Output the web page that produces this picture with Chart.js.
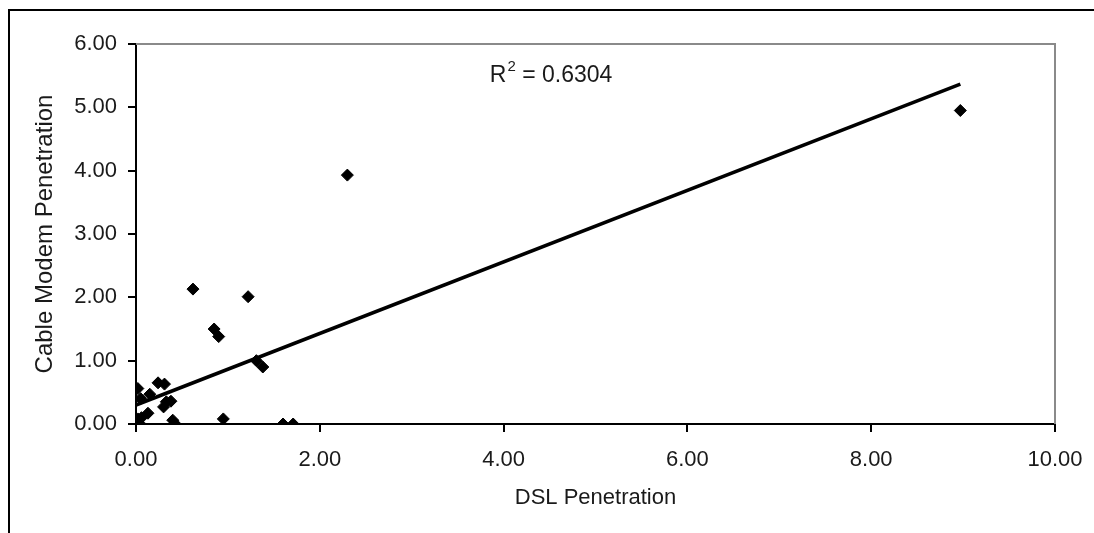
<!DOCTYPE html>
<html>
<head>
<meta charset="utf-8">
<script src="https://cdn.jsdelivr.net/npm/chart.js@4.4.1/dist/chart.umd.min.js"></script>
<style>
html,body{margin:0;padding:0;background:#fff;}
#wrap{width:1094px;height:533px;position:relative;}
canvas{display:block;}
</style>
</head>
<body>
<div id="wrap"><canvas id="c" width="1094" height="533"></canvas></div>
<script>
// ---- data ----
const dslPenetration        = [0.00, 0.01, 0.02, 0.03, 0.05, 0.02, 0.06, 0.13, 0.15, 0.24, 0.31, 0.33, 0.30, 0.38, 0.40, 0.42, 0.62, 0.85, 0.90, 0.95, 1.22, 1.31, 1.38, 1.60, 1.71, 2.30, 8.97];
const cableModemPenetration = [0.00, 0.03, 0.08, 0.02, 0.40, 0.56, 0.10, 0.17, 0.47, 0.65, 0.63, 0.35, 0.27, 0.36, 0.06, 0.01, 2.13, 1.50, 1.38, 0.08, 2.01, 1.00, 0.90, 0.00, 0.00, 3.93, 4.95];
const xTickValues = [0, 2, 4, 6, 8, 10];
const yTickValues = [0, 1, 2, 3, 4, 5, 6];
const trendIntercept = 0.30;
const trendSlope = 0.565;
const rSquaredText = '0.6304';
const xAxisTitle = 'DSL Penetration';
const yAxisTitle = 'Cable Modem Penetration';

const points = dslPenetration.map((x, i) => ({x: x, y: cableModemPenetration[i]}));
const minX = Math.min(...dslPenetration);
const maxX = Math.max(...dslPenetration);
const trendPoints = [minX, maxX].map(x => ({x: x, y: trendIntercept + trendSlope * x}));

const FONT = "'Liberation Sans', Arial, sans-serif";
Chart.defaults.font.family = FONT;
Chart.defaults.font.size = 22;
Chart.defaults.color = '#1a1a1a';

const frame = {
  id: 'frame',
  beforeDraw(chart) {
    const ctx = chart.ctx;
    ctx.save();
    ctx.fillStyle = '#fff';
    ctx.fillRect(0, 0, chart.width, chart.height);
    ctx.strokeStyle = '#000';
    ctx.lineWidth = 2;
    ctx.beginPath();
    ctx.moveTo(9, chart.height);
    ctx.lineTo(9, 10);
    ctx.lineTo(chart.width, 10);
    ctx.stroke();
    ctx.restore();
  },
  beforeDatasetsDraw(chart) {
    const {ctx, chartArea: a} = chart;
    ctx.save();
    ctx.strokeStyle = '#8a8a8a';
    ctx.lineWidth = 2;
    ctx.beginPath();
    ctx.moveTo(a.left, a.top);
    ctx.lineTo(a.right, a.top);
    ctx.lineTo(a.right, a.bottom);
    ctx.stroke();
    ctx.restore();
  },
  afterDatasetsDraw(chart) {
    const ctx = chart.ctx;
    const xs = chart.scales.x, ys = chart.scales.y;
    const px = xs.getPixelForValue(3.85);
    const py = ys.getPixelForValue(5.50);
    ctx.save();
    ctx.fillStyle = '#1a1a1a';
    ctx.textBaseline = 'middle';
    ctx.textAlign = 'left';
    ctx.font = '23px ' + FONT;
    ctx.fillText('R', px, py);
    let w = ctx.measureText('R').width;
    ctx.font = '15px ' + FONT;
    ctx.fillText('2', px + w + 1, py - 9);
    w += ctx.measureText('2').width + 1;
    ctx.font = '23px ' + FONT;
    ctx.fillText(' = ' + rSquaredText, px + w, py);
    ctx.restore();
  }
};

new Chart(document.getElementById('c'), {
  type: 'scatter',
  data: {
    datasets: [
      {
        label: 'Penetration',
        data: points,
        pointStyle: 'rectRot',
        pointRadius: 6,
        pointBorderWidth: 1,
        backgroundColor: '#000',
        borderColor: '#000',
        order: 2
      },
      {
        label: 'Linear trend',
        data: trendPoints,
        showLine: true,
        borderColor: '#000',
        borderWidth: 3.5,
        pointRadius: 0,
        fill: false,
        order: 1
      }
    ]
  },
  plugins: [frame],
  options: {
    responsive: false,
    animation: false,
    devicePixelRatio: 1,
    layout: {padding: {left: 0, top: 44, right: 39, bottom: 0}},
    plugins: {legend: {display: false}, tooltip: {enabled: false}},
    scales: {
      x: {
        type: 'linear',
        min: 0, max: 10,
        afterBuildTicks: s => { s.ticks = xTickValues.map(v => ({value: v})); },
        afterFit: s => { s.height = 109; s.paddingLeft = 0; s.paddingRight = 0; },
        ticks: {callback: v => Number(v).toFixed(2), padding: 15, maxRotation: 0, autoSkip: false, color: '#1a1a1a'},
        grid: {display: true, drawOnChartArea: false, drawTicks: true, tickLength: 8, color: '#000', lineWidth: 2},
        border: {display: true, color: '#000', width: 2},
        title: {display: true, text: xAxisTitle, color: '#1a1a1a', padding: {top: 0, bottom: 22}}
      },
      y: {
        type: 'linear',
        min: 0, max: 6,
        afterBuildTicks: s => { s.ticks = yTickValues.map(v => ({value: v})); },
        afterFit: s => { s.width = 136; },
        ticks: {callback: v => Number(v).toFixed(2), padding: 11, autoSkip: false, color: '#1a1a1a'},
        grid: {display: true, drawOnChartArea: false, drawTicks: true, tickLength: 8, color: '#000', lineWidth: 2},
        border: {display: true, color: '#000', width: 2},
        title: {display: true, text: yAxisTitle, color: '#1a1a1a', font: {size: 24}, padding: {top: 31, bottom: 0}}
      }
    }
  }
});
</script>
</body>
</html>
